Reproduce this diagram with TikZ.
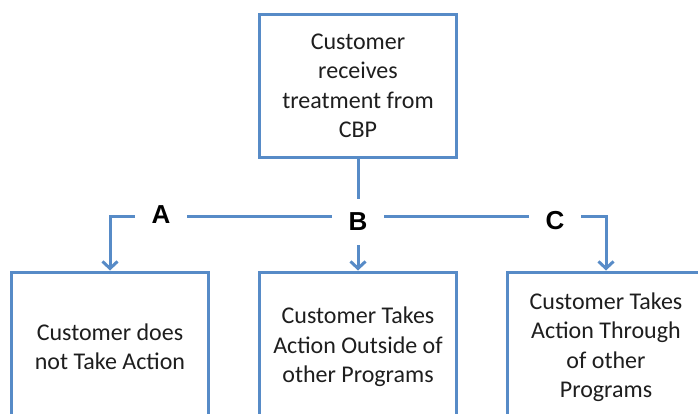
\documentclass[tikz,border=0pt]{standalone}
\usepackage{fontspec}
\setmainfont{Carlito}
\newfontfamily\letterfont{Liberation Sans}
\usetikzlibrary{arrows.meta}
\definecolor{flowblue}{RGB}{87,139,199}
\definecolor{flowtext}{RGB}{30,30,30}
\begin{document}
\begin{tikzpicture}[x=1pt, y=-1pt, node distance = 248pt,
    box/.style = {draw=flowblue, line width=3pt, fill=white, text=flowtext, align=center,
      minimum width=197pt, minimum height=150pt, inner sep=0pt,
      font=\fontsize{24}{29.5}\selectfont},
    letter/.style = {fill=white, minimum width=52pt, minimum height=46pt, inner sep=0pt,
      font=\letterfont\bfseries\fontsize{26}{30}\selectfont},
    link/.style = {draw=flowblue, line width=3pt},
    tip/.style = {-{Straight Barb[length=7pt, width=15pt]}}]
  \clip (0,0) rectangle (698,414);
  \node[box, minimum height=143pt] (treat) at (358,86) {Customer\\receives\\treatment from\\CBP};
  \node[box] (outside) [below of = treat, node distance = 261pt] {Customer Takes\\Action Outside of\\other Programs};
  \node[box] (noact) [left of = outside] {Customer does\\not Take Action};
  \node[box] (through) [right of = outside] {Customer Takes\\Action Through\\of other\\Programs};

  \node[letter] (A) at (161,215) {A};
  \node[letter] (B) at (358,222) {B};
  \node[letter] (C) at (555,221) {C};
  \coordinate (split) at (358,216);

  \draw[link] (treat) -- (B);
  \draw[link, tip] (B) -- (outside);
  \draw[link] (A.east |- split) -- (B.west |- split);
  \draw[link] (B.east |- split) -- (C.west |- split);
  \draw[link, tip] (A.west |- split) -| (noact);
  \draw[link, tip] (C.east |- split) -| (through);
\end{tikzpicture}
\end{document}
